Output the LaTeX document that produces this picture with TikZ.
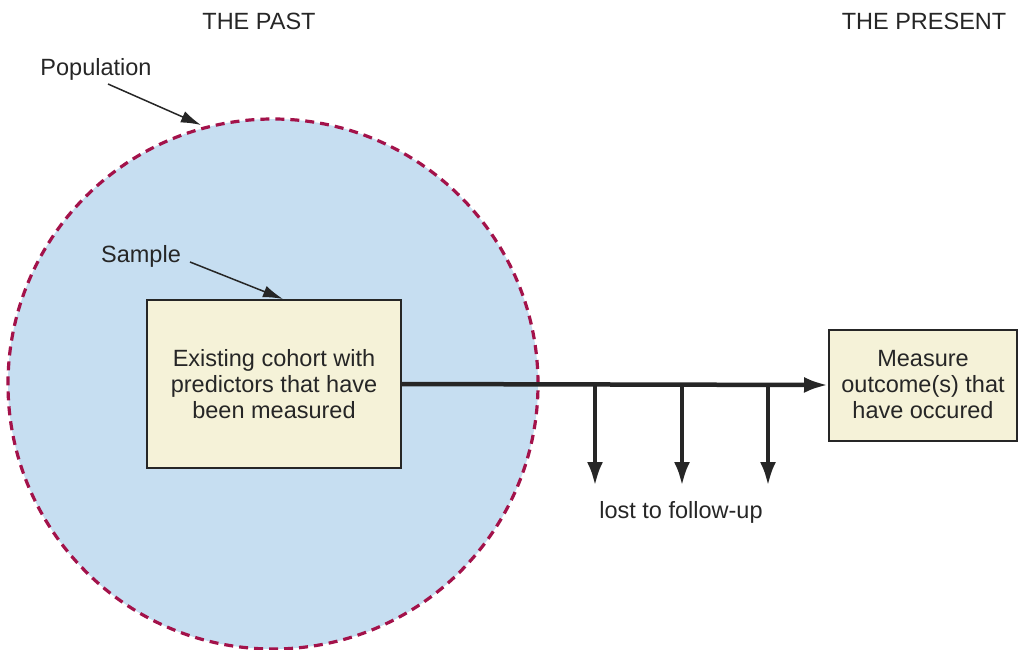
\documentclass[tikz,border=0pt]{standalone}
\usepackage{fontspec}
\setmainfont{Liberation Sans}
\usetikzlibrary{arrows.meta}
\definecolor{popblue}{HTML}{C6DEF1}
\definecolor{popred}{HTML}{A3124A}
\definecolor{boxfill}{HTML}{F5F2D8}
\tikzset{
  lbl/.style={font=\fontsize{23.5}{26}\selectfont, text=black!85},
  box/.style={draw=black!85, line width=2pt, fill=boxfill, align=center, text=black!85, font=\fontsize{23.5}{26}\selectfont},
  thin arrow/.style={-{Latex[length=20pt,width=12pt]}, line width=1.5pt, black!85},
  thick arrow/.style={-{Latex[length=24pt,width=16pt]}, line width=4.5pt, black!85}
}
\begin{document}
\begin{tikzpicture}[x=1pt, y=-1pt]
	\useasboundingbox (0,0) rectangle (1019,649);
	\node (pop) [circle, fill=popblue, draw=popred, line width=3.2pt, dash pattern=on 9pt off 6pt, minimum size=530pt, inner sep=0pt] at (273,384) {};
	\node (past) [lbl] at (259,21) {THE PAST};
	\node (present) [lbl] at (924,21) {THE PRESENT};
	\node (poplbl) [lbl] at (96,69) {Population};
	\node (samplbl) [lbl] at (141,256) {Sample};
	\node (cohort) [box, minimum width=254pt, minimum height=168pt] at (274,384) {Existing cohort with\\predictors that have\\been measured};
	\node (outcome) [box, minimum width=188pt, minimum height=111pt] at (923,385) {Measure\\outcome(s) that\\have occured};
	\node (lost) [lbl] at (681,512) {lost to follow-up};
	\coordinate (p1) at (108,84);
	\coordinate (p2) at (201,125);
	\coordinate (s1) at (190,262);
	\coordinate (s2) at (283,299);
	\draw[thin arrow] (p1) -- (p2);
	\draw[thin arrow] (s1) -- (s2);
	\foreach \x in {595,682,768} {
		\coordinate (a\x) at (\x,384);
		\coordinate (b\x) at (\x,486);
		\draw[thick arrow] (a\x) -- (b\x);
	}
	\draw[thick arrow] (cohort.east) -- (outcome.west);
\end{tikzpicture}
\end{document}
